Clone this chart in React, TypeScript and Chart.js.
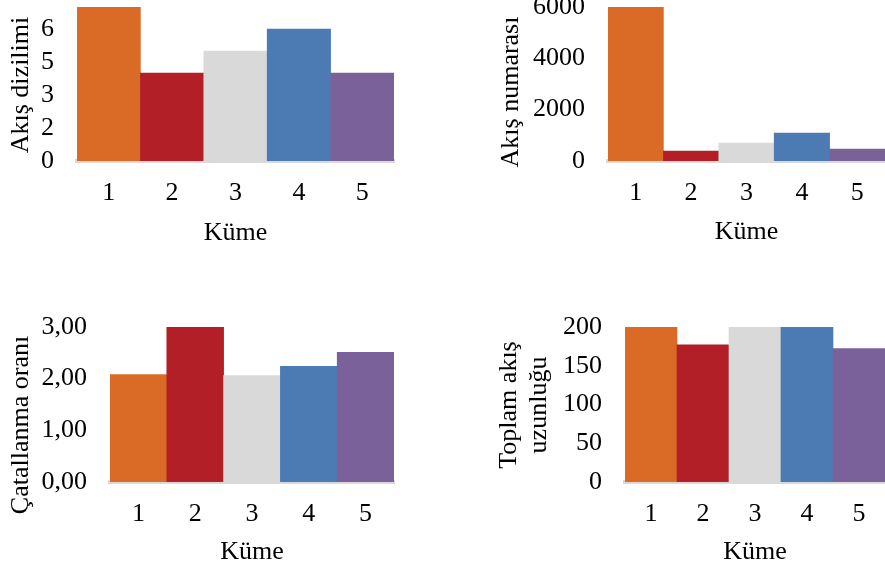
import React, { useEffect, useRef } from "react";
import { Chart, registerables } from "chart.js";

Chart.register(...registerables);

// ---------- data ----------
const clusters = ["1", "2", "3", "4", "5"];
const barColors = ["#DA6B27", "#B21F27", "#D9D9D9", "#4C7BB4", "#7B619A"];

const flowOrder = [7, 4, 5, 6, 4];
const flowOrderTicks = [0, 1.5, 3, 4.5, 6];
const flowOrderTickLabels = ["0", "2", "3", "5", "6"];

const flowCount = [6000, 390, 700, 1090, 467];
const flowCountTicks = [0, 2000, 4000, 6000];
const flowCountTickLabels = ["0", "2000", "4000", "6000"];

const bifurcationRatio = [2.08, 3.0, 2.06, 2.24, 2.51];
const bifurcationTicks = [0, 1, 2, 3];
const bifurcationTickLabels = ["0,00", "1,00", "2,00", "3,00"];

const totalLength = [200, 177, 200, 200, 172];
const totalLengthTicks = [0, 50, 100, 150, 200];
const totalLengthTickLabels = ["0", "50", "100", "150", "200"];

const xTitle = "Küme";

// ---------- layout / style ----------
const W = 885;
const H = 571;
const FONT = '"Liberation Serif", "Times New Roman", serif';
const FS = 26;
const LH = 1.2;

type Panel = {
  values: number[];
  ticks: number[];
  tickLabels: string[];
  max: number;
  area: { left: number; right: number; top: number; bottom: number };
  yTitle: { lines: string[]; x: number; y: number; gap: number };
  xTitleMid: number;
};

const panels: Panel[] = [
  {
    values: flowOrder,
    ticks: flowOrderTicks,
    tickLabels: flowOrderTickLabels,
    max: 7,
    area: { left: 77, right: 394, top: 7, bottom: 161 },
    yTitle: { lines: ["Akış dizilimi"], x: 28, y: 85, gap: 30 },
    xTitleMid: 233,
  },
  {
    values: flowCount,
    ticks: flowCountTicks,
    tickLabels: flowCountTickLabels,
    max: 6000,
    area: { left: 608, right: 885, top: 7, bottom: 161 },
    yTitle: { lines: ["Akış numarası"], x: 518, y: 92, gap: 30 },
    xTitleMid: 232,
  },
  {
    values: bifurcationRatio,
    ticks: bifurcationTicks,
    tickLabels: bifurcationTickLabels,
    max: 3,
    area: { left: 110, right: 394, top: 327, bottom: 482 },
    yTitle: { lines: ["Çatallanma oranı"], x: 28, y: 425, gap: 30 },
    xTitleMid: 552,
  },
  {
    values: totalLength,
    ticks: totalLengthTicks,
    tickLabels: totalLengthTickLabels,
    max: 200,
    area: { left: 625, right: 885, top: 327, bottom: 482 },
    yTitle: { lines: ["Toplam akış", "uzunluğu"], x: 516, y: 405, gap: 30 },
    xTitleMid: 552,
  },
];

const yTitlePlugin = {
  id: "yTitleText",
  afterDraw(chart: any, _args: any, opts: any) {
    const { ctx } = chart;
    ctx.save();
    ctx.font = `${FS}px ${FONT}`;
    ctx.fillStyle = "#000";
    ctx.textAlign = "center";
    ctx.textBaseline = "alphabetic";
    ctx.translate(opts.x, opts.y);
    ctx.rotate(-Math.PI / 2);
    (opts.lines as string[]).forEach((line, i) => ctx.fillText(line, 0, i * opts.gap));
    ctx.restore();
  },
};

function PanelChart({ p }: { p: Panel }) {
  const ref = useRef<HTMLCanvasElement | null>(null);
  useEffect(() => {
    if (!ref.current) return;
    const yW = Math.min(140, p.area.left);
    const xH = p.xTitleMid - p.area.bottom + (FS * LH) / 2;
    const chart = new Chart(ref.current, {
      type: "bar",
      data: {
        labels: clusters,
        datasets: [
          {
            data: p.values,
            backgroundColor: barColors,
            borderWidth: 0,
            barPercentage: 1,
            categoryPercentage: 1,
          },
        ],
      },
      plugins: [yTitlePlugin],
      options: {
        responsive: false,
        animation: false,
        events: [],
        layout: {
          padding: {
            left: p.area.left - yW,
            right: W - p.area.right,
            top: p.area.top,
            bottom: H - p.area.bottom - xH,
          },
        },
        plugins: {
          legend: { display: false },
          tooltip: { enabled: false },
          yTitleText: p.yTitle,
        } as any,
        scales: {
          x: {
            grid: { display: false, drawTicks: false },
            border: { display: true, color: "#D9D9D9", width: 4 },
            ticks: {
              color: "#000",
              font: { family: FONT, size: FS },
              padding: 17,
              maxRotation: 0,
              autoSkip: false,
            },
            title: {
              display: true,
              text: xTitle,
              color: "#000",
              font: { family: FONT, size: FS, lineHeight: LH },
              padding: 0,
            },
            afterFit: (s: any) => {
              s.height = xH;
              s.paddingLeft = 0;
              s.paddingRight = 0;
            },
          },
          y: {
            min: 0,
            max: p.max,
            grid: { display: false, drawTicks: false },
            border: { display: false },
            ticks: {
              color: "#000",
              font: { family: FONT, size: FS },
              padding: 23,
              callback: (_v: any, i: number) => p.tickLabels[i],
            },
            afterBuildTicks: (s: any) => {
              s.ticks = p.ticks.map((v) => ({ value: v }));
            },
            afterFit: (s: any) => {
              s.width = yW;
              s.paddingTop = 0;
              s.paddingBottom = 0;
            },
          },
        },
      },
    } as any);
    return () => chart.destroy();
  }, [p]);
  return (
    <canvas
      ref={ref}
      width={W}
      height={H}
      style={{ position: "absolute", left: 0, top: 0, width: W, height: H }}
    />
  );
}

export default function App() {
  return (
    <div
      style={{
        position: "absolute",
        left: 0,
        top: 0,
        width: W,
        height: H,
        overflow: "hidden",
        background: "#fff",
      }}
    >
      {panels.map((p, i) => (
        <PanelChart key={i} p={p} />
      ))}
    </div>
  );
}
